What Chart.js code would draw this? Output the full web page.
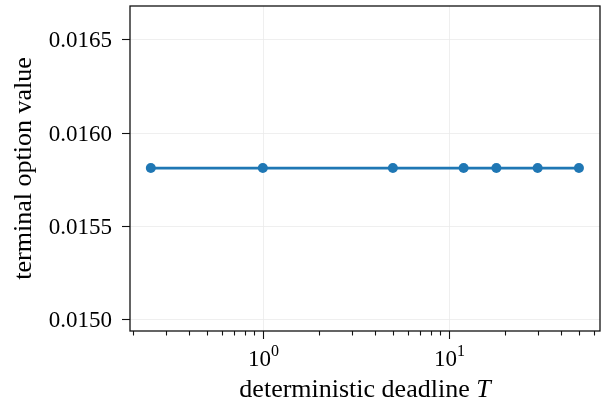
<!DOCTYPE html>
<html>
<head>
<meta charset="utf-8">
<script src="https://cdn.jsdelivr.net/npm/chart.js@4.4.1/dist/chart.umd.min.js"></script>
<style>
  html, body { margin: 0; padding: 0; background: #fff; }
  #wrap { width: 605px; height: 406px; }
</style>
</head>
<body>
<div id="wrap"><canvas id="valueChart" width="605" height="406"></canvas></div>
<script>
// data
var deadlines = [0.25, 1, 5, 12, 18, 30, 50];
var optionValues = [0.01581, 0.01581, 0.01581, 0.01581, 0.01581, 0.01581, 0.01581];
var yTickValues = [0.0150, 0.0155, 0.0160, 0.0165];
var yTickLabels = ['0.0150', '0.0155', '0.0160', '0.0165'];
var xMajorTicks = [1, 10];
var xMajorExponents = ['0', '1'];
var xMinorTicks = [0.2, 0.3, 0.4, 0.5, 0.6, 0.7, 0.8, 0.9, 2, 3, 4, 5, 6, 7, 8, 9, 20, 30, 40, 50, 60];
var xTitle = 'deterministic deadline ';
var xTitleVar = 'T';
var yTitle = 'terminal option value';

var serif = '"Liberation Serif", "Times New Roman", serif';
var tickFont = 23;
var labelFont = 26;

var points = deadlines.map(function(d, i) { return {x: d, y: optionValues[i]}; });

// grid, spines, ticks and text drawn round the chart area
var axesPlugin = {
  id: 'mplAxes',
  beforeDatasetsDraw: function(chart) {
    var c = chart.ctx, a = chart.chartArea;
    var xs = chart.scales.x, ys = chart.scales.y;
    c.save();
    c.strokeStyle = '#ebebeb';
    c.lineWidth = 0.8;
    yTickValues.forEach(function(v) {
      var py = Math.round(ys.getPixelForValue(v)) + 0.5;
      c.beginPath(); c.moveTo(a.left, py); c.lineTo(a.right, py); c.stroke();
    });
    xMajorTicks.forEach(function(v) {
      var px = Math.round(xs.getPixelForValue(v)) + 0.5;
      c.beginPath(); c.moveTo(px, a.top); c.lineTo(px, a.bottom); c.stroke();
    });
    c.restore();
  },
  afterDraw: function(chart) {
    var c = chart.ctx, a = chart.chartArea;
    var xs = chart.scales.x, ys = chart.scales.y;
    c.save();
    c.strokeStyle = '#111';
    c.lineWidth = 1.3;
    c.strokeRect(a.left, a.top, a.right - a.left, a.bottom - a.top);

    c.lineWidth = 1.1;
    c.fillStyle = '#000';
    // y ticks and labels
    c.font = tickFont + 'px ' + serif;
    c.textAlign = 'right';
    c.textBaseline = 'middle';
    yTickValues.forEach(function(v, i) {
      var py = Math.round(ys.getPixelForValue(v)) + 0.5;
      c.beginPath(); c.moveTo(a.left - 8, py); c.lineTo(a.left, py); c.stroke();
      c.fillText(yTickLabels[i], a.left - 18, py + 1);
    });
    // x minor ticks
    xMinorTicks.forEach(function(v) {
      var px = Math.round(xs.getPixelForValue(v)) + 0.5;
      if (px < a.left || px > a.right) return;
      c.beginPath(); c.moveTo(px, a.bottom); c.lineTo(px, a.bottom + 4.5); c.stroke();
    });
    // x major ticks with 10^n labels
    c.textBaseline = 'alphabetic';
    xMajorTicks.forEach(function(v, i) {
      var px = Math.round(xs.getPixelForValue(v)) + 0.5;
      c.beginPath(); c.moveTo(px, a.bottom); c.lineTo(px, a.bottom + 8); c.stroke();
      c.font = tickFont + 'px ' + serif;
      var w1 = c.measureText('10').width;
      c.font = Math.round(tickFont * 0.7) + 'px ' + serif;
      var w2 = c.measureText(xMajorExponents[i]).width;
      var x0 = px - (w1 + w2) / 2;
      c.textAlign = 'left';
      c.font = tickFont + 'px ' + serif;
      c.fillText('10', x0, a.bottom + 35);
      c.font = Math.round(tickFont * 0.7) + 'px ' + serif;
      c.fillText(xMajorExponents[i], x0 + w1, a.bottom + 25);
    });
    // x title, with italic variable
    c.font = labelFont + 'px ' + serif;
    var tw1 = c.measureText(xTitle).width;
    c.font = 'italic ' + labelFont + 'px ' + serif;
    var tw2 = c.measureText(xTitleVar).width;
    var cx = (a.left + a.right) / 2;
    var tx = cx - (tw1 + tw2) / 2;
    c.textAlign = 'left';
    c.font = labelFont + 'px ' + serif;
    c.fillText(xTitle, tx, 397);
    c.font = 'italic ' + labelFont + 'px ' + serif;
    c.fillText(xTitleVar, tx + tw1, 397);
    // y title
    c.translate(24, (a.top + a.bottom) / 2);
    c.rotate(-Math.PI / 2);
    c.textAlign = 'center';
    c.textBaseline = 'middle';
    c.font = labelFont + 'px ' + serif;
    c.fillText(yTitle, 0, 0);
    c.restore();
  }
};

var ctx = document.getElementById('valueChart').getContext('2d');
var valueChart = new Chart(ctx, {
  type: 'line',
  data: {
    datasets: [{
      label: 'terminal option value',
      data: points,
      borderColor: '#1f77b4',
      backgroundColor: '#1f77b4',
      borderWidth: 2.8,
      pointRadius: 5,
      pointHoverRadius: 5,
      pointBorderWidth: 0,
      tension: 0
    }]
  },
  options: {
    responsive: false,
    animation: false,
    events: [],
    layout: { padding: { left: 130, right: 3.5, top: 6, bottom: 75 } },
    plugins: { legend: { display: false }, tooltip: { enabled: false } },
    scales: {
      x: { type: 'logarithmic', display: false, min: 0.1932, max: 64.9 },
      y: { type: 'linear', display: false, min: 0.014937, max: 0.016678 }
    }
  },
  plugins: [axesPlugin]
});
</script>
</body>
</html>
